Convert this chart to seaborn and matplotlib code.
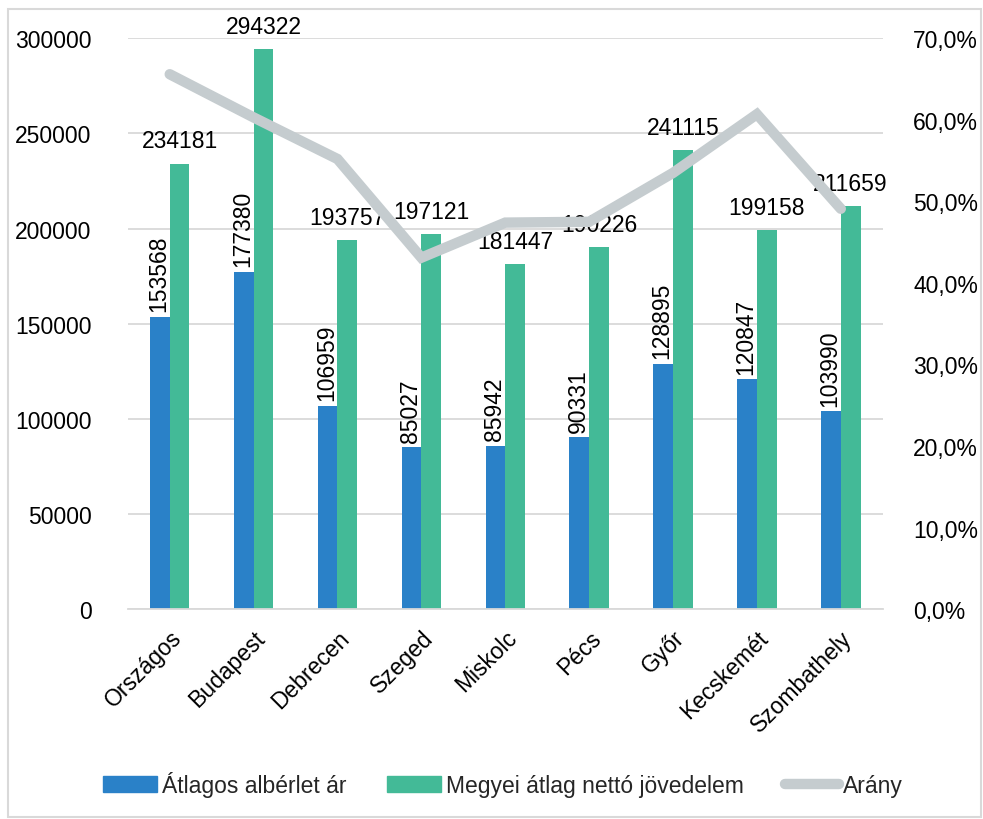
import matplotlib
matplotlib.use("Agg")
import matplotlib.pyplot as plt
import matplotlib.patches as mpatches
from matplotlib.lines import Line2D
from matplotlib.ticker import FuncFormatter, MultipleLocator
import seaborn as sns
import pandas as pd

# Cities and series values
cities = ["Országos", "Budapest", "Debrecen", "Szeged", "Miskolc",
          "Pécs", "Győr", "Kecskemét", "Szombathely"]
rent = [153568, 177380, 106959, 85027, 85942, 90331, 128895, 120847, 103990]
income = [234181, 294322, 193757, 197121, 181447, 190226, 241115, 199158, 211659]
ratio = [65.6, 60.3, 55.2, 43.1, 47.4, 47.5, 53.5, 60.7, 49.1]

rent_name = "Átlagos albérlet ár"
income_name = "Megyei átlag nettó jövedelem"
ratio_name = "Arány"

BLUE = "#2A81C8"
GREEN = "#43BA97"
GREY = "#C5CCCF"

sns.set_theme(style="white")
plt.rcParams["font.family"] = ["Liberation Sans", "DejaVu Sans"]
FS = 16.5

df = pd.DataFrame({
    "city": cities * 2,
    "value": rent + income,
    "series": [rent_name] * len(cities) + [income_name] * len(cities),
})

fig = plt.figure(figsize=(9.83, 8.2), dpi=100)
ax = fig.add_axes([0.130, 0.256, 0.768, 0.696])

sns.barplot(data=df, x="city", y="value", hue="series", order=cities,
            hue_order=[rent_name, income_name],
            palette=[BLUE, GREEN], width=0.47, gap=0, saturation=1,
            edgecolor="none", linewidth=0, ax=ax, legend=False)

ax.set_ylim(0, 300000)
ax.set_xlim(-0.5, len(cities) - 0.5)
ax.yaxis.set_major_locator(MultipleLocator(50000))
ax.grid(axis="y", color="#D9D9D9", linewidth=1.3)
ax.set_axisbelow(True)
for s in ["top", "left", "right"]:
    ax.spines[s].set_visible(False)
ax.spines["bottom"].set_color("#D9D9D9")
ax.spines["bottom"].set_linewidth(1.3)
ax.set_xlabel("")
ax.set_ylabel("")
ax.tick_params(axis="y", labelsize=FS, length=0, pad=26, colors="black")
ax.tick_params(axis="x", labelsize=FS, length=0, pad=12, colors="black")
plt.setp(ax.get_xticklabels(), rotation=45, ha="right", rotation_mode="anchor")

# Value labels
rent_bars, income_bars = ax.containers[0], ax.containers[1]
for bar, v in zip(rent_bars, rent):
    ax.annotate(f"{v}", (bar.get_x() + bar.get_width() / 2, bar.get_height()),
                xytext=(-1, 4), textcoords="offset points", rotation=90,
                ha="center", va="bottom", fontsize=FS, color="black")
for bar, v in zip(income_bars, income):
    ax.annotate(f"{v}", (bar.get_x() + bar.get_width() / 2, bar.get_height()),
                xytext=(0, 8), textcoords="offset points",
                ha="center", va="bottom", fontsize=FS, color="black")

# Ratio on the secondary axis
ax2 = ax.twinx()
sns.lineplot(x=list(range(len(cities))), y=ratio, ax=ax2, color=GREY,
             linewidth=7.5, solid_capstyle="round", solid_joinstyle="miter",
             legend=False)
ax2.set_ylim(0, 70)
ax2.yaxis.set_major_locator(MultipleLocator(10))
ax2.yaxis.set_major_formatter(FuncFormatter(lambda v, p: f"{v:.1f}%".replace(".", ",")))
ax2.tick_params(axis="y", labelsize=FS, length=0, pad=22, colors="black")
for s in ax2.spines.values():
    s.set_visible(False)
ax2.grid(False)
ax2.set_xlim(-0.5, len(cities) - 0.5)

handles = [
    mpatches.Patch(color=BLUE, label=rent_name),
    mpatches.Patch(color=GREEN, label=income_name),
    Line2D([0], [0], color=GREY, linewidth=7.5, solid_capstyle="round", label=ratio_name),
]
fig.legend(handles=handles, loc="center", bbox_to_anchor=(0.512, 0.043), ncol=3,
           frameon=False, fontsize=FS, handlelength=2.35, handleheight=0.7,
           handletextpad=0.2, columnspacing=1.8)

# Chart frame
fig.patches.append(mpatches.Rectangle((0.008, 0.003), 0.99, 0.985,
                                      transform=fig.transFigure, fill=False,
                                      edgecolor="#D9D9D9", linewidth=1.5))

fig.savefig("out.png", dpi=100, facecolor="white")
